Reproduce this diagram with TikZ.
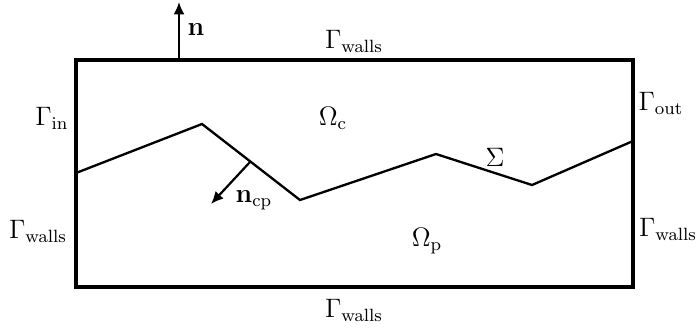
\documentclass[tikz,border=0pt]{standalone}
\usepackage{amsmath,amssymb}
\usetikzlibrary{arrows.meta}
\tikzset{
  wall/.style={line width=1.6pt,line join=miter},
  iface/.style={line width=1.05pt,line join=miter},
  vec/.style={line width=1pt,-{Latex[length=5.6pt,width=5pt]}},
  lbl/.style={inner sep=0pt,font=\large},
}

\begin{document}
\begin{tikzpicture}[x=0.45pt,y=-0.45pt]
  \useasboundingbox (0,0) rectangle (697,329);
  % channel
  \draw[wall] (76,60) rectangle (633,287);
  % interface Sigma
  \coordinate (s0) at (76,173);
  \coordinate (s1) at (202,124);
  \coordinate (s2) at (300,200);
  \coordinate (s3) at (436,154);
  \coordinate (s4) at (532,185);
  \coordinate (s5) at (633,141);
  \draw[iface] (s0) -- (s1) -- (s2) -- (s3) -- (s4) -- (s5);
  % normals
  \coordinate (nbase) at (179,60);
  \coordinate (ntip) at (179,2);
  \draw[vec] (nbase) -- (ntip);
  \coordinate (cpbase) at (250,162);
  \coordinate (cptip) at (211,204);
  \draw[vec] (cpbase) -- (cptip);
  % labels
  \node[lbl] (nlbl) at (196,30) {$\mathbf{n}$};
  \node[lbl] (cplbl) at (254,200) {$\mathbf{n}_{\mathrm{cp}}$};
  \node[lbl] (wtop) at (354,41) {$\Gamma_{\mathrm{walls}}$};
  \node[lbl] (wbot) at (354,310) {$\Gamma_{\mathrm{walls}}$};
  \node[lbl] (wleft) at (38,231) {$\Gamma_{\mathrm{walls}}$};
  \node[lbl] (wright) at (668,229) {$\Gamma_{\mathrm{walls}}$};
  \node[lbl] (gin) at (52,118) {$\Gamma_{\mathrm{in}}$};
  \node[lbl] (gout) at (661,103) {$\Gamma_{\mathrm{out}}$};
  \node[lbl] (omc) at (333,118) {$\Omega_{\mathrm{c}}$};
  \node[lbl] (omp) at (427,241) {$\Omega_{\mathrm{p}}$};
  \node[lbl] (sig) at (495,157) {$\Sigma$};
\end{tikzpicture}
\end{document}
